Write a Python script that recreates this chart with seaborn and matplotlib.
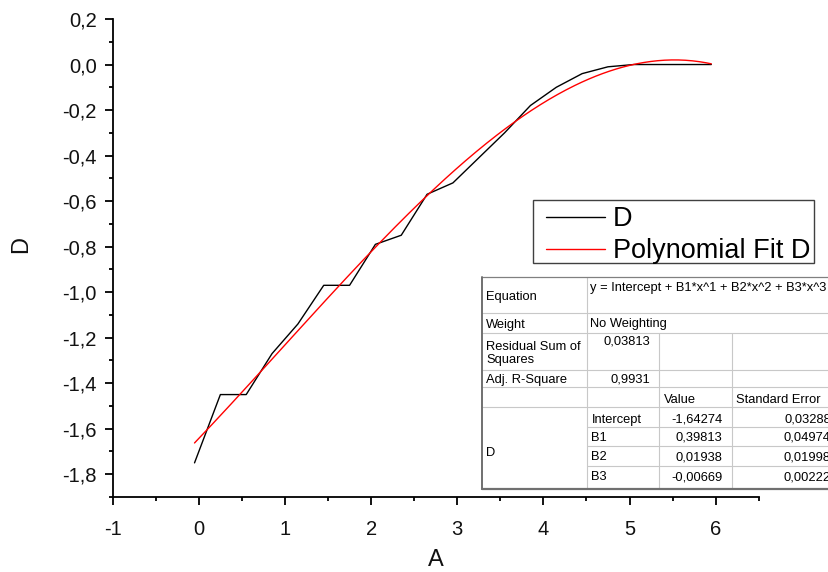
import numpy as np
import pandas as pd
import matplotlib
matplotlib.use("Agg")
import matplotlib.pyplot as plt
from matplotlib.ticker import FixedLocator, FixedFormatter, MultipleLocator
import seaborn as sns

# ---------------- data ----------------
a_values = [-0.05, 0.25, 0.55, 0.85, 1.15, 1.45, 1.75, 2.05, 2.35, 2.65, 2.95,
            3.25, 3.55, 3.85, 4.15, 4.45, 4.75, 5.05, 5.35, 5.65, 5.95]
d_values = [-1.75, -1.45, -1.45, -1.27, -1.14, -0.97, -0.97, -0.79, -0.75, -0.57, -0.52,
            -0.41, -0.30, -0.18, -0.10, -0.04, -0.01, 0.0, 0.0, 0.0, 0.0]
# polynomial fit coefficients (Intercept, B1, B2, B3) from the fit table
fit_coefs = [-1.64274, 0.39813, 0.01938, -0.00669]
fit_std_err = ["0,03288", "0,04974", "0,01998", "0,00222"]
fit_value_labels = ["-1,64274", "0,39813", "0,01938", "-0,00669"]
fit_param_names = ["Intercept", "B1", "B2", "B3"]

x_ticks = [-1, 0, 1, 2, 3, 4, 5, 6]
x_tick_labels = ["-1", "0", "1", "2", "3", "4", "5", "6"]
y_ticks = [0.2, 0.0, -0.2, -0.4, -0.6, -0.8, -1.0, -1.2, -1.4, -1.6, -1.8]
y_tick_labels = ["0,2", "0,0", "-0,2", "-0,4", "-0,6", "-0,8", "-1,0", "-1,2", "-1,4", "-1,6", "-1,8"]

df = pd.DataFrame({"A": a_values, "D": d_values})
fit_x = np.linspace(min(a_values), max(a_values), 300)
fit_y = np.polynomial.polynomial.polyval(fit_x, fit_coefs)
fit_df = pd.DataFrame({"A": fit_x, "D": fit_y})

# ---------------- style ----------------
sns.set_theme(style="white")
plt.rcParams["font.family"] = ["Liberation Sans", "DejaVu Sans"]

W, H = 829, 572
fig = plt.figure(figsize=(W / 100, H / 100), dpi=100)
ax_l, ax_r, ax_t, ax_b = 112.7, 758.7, 19.0, 497.0
ax = fig.add_axes([ax_l / W, 1 - ax_b / H, (ax_r - ax_l) / W, (ax_b - ax_t) / H])

sns.lineplot(data=df, x="A", y="D", ax=ax, color="black", linewidth=1.0, sort=False)
sns.lineplot(data=fit_df, x="A", y="D", ax=ax, color="#ff0000", linewidth=1.0, sort=False)

ax.set_xlim(-1, 6.5)
ax.set_ylim(-1.9, 0.2)
for s in ["top", "right"]:
    ax.spines[s].set_visible(False)
for s in ["left", "bottom"]:
    ax.spines[s].set_color("black")
    ax.spines[s].set_linewidth(1.3)

ax.xaxis.set_major_locator(FixedLocator(x_ticks))
ax.xaxis.set_major_formatter(FixedFormatter(x_tick_labels))
ax.yaxis.set_major_locator(FixedLocator(y_ticks))
ax.yaxis.set_major_formatter(FixedFormatter(y_tick_labels))
ax.xaxis.set_minor_locator(MultipleLocator(0.5))
ax.yaxis.set_minor_locator(MultipleLocator(0.1))
ax.tick_params(which="major", direction="out", length=5.5, width=1.3, color="black",
               labelsize=14.5, labelcolor="#111111", left=True, bottom=True)
ax.tick_params(axis="y", which="major", pad=6)
ax.tick_params(axis="x", which="major", pad=11)
ax.tick_params(which="minor", direction="out", length=3, width=1.3, color="black",
               left=True, bottom=True)

ax.set_xlabel("A", fontsize=17, color="#111111")
ax.set_ylabel("D", fontsize=17, color="#111111")
ax.xaxis.set_label_coords((436 - ax_l) / (ax_r - ax_l), (ax_b - 560) / (ax_b - ax_t))
ax.yaxis.set_label_coords((21 - ax_l) / (ax_r - ax_l), (ax_b - 245) / (ax_b - ax_t))
ax.xaxis.label.set_verticalalignment("center")
ax.yaxis.label.set_verticalalignment("center")

# ---------------- overlay (legend + fit table) in pixel coordinates ----------------
ov = fig.add_axes([0, 0, 1, 1], zorder=5)
ov.set_xlim(0, W)
ov.set_ylim(H, 0)
ov.axis("off")
ov.patch.set_alpha(0)

# legend box
ov.add_patch(plt.Rectangle((532.7, 200), 814.3 - 532.7, 263.3 - 200, fill=True,
                           facecolor="white", edgecolor="#404040", linewidth=1.0))
ov.plot([546, 605], [216.7, 216.7], color="black", lw=1.0)
ov.plot([546, 605], [249, 249], color="#ff0000", lw=1.0)
ov.text(613, 226, "D", fontsize=19.5, va="baseline", ha="left", color="black")
ov.text(613, 257.5, "Polynomial Fit D", fontsize=19.5, va="baseline", ha="left", color="black")

# fit table
tl, tt, tb, tr = 481.7, 277.3, 489.0, 840
c1, c2, c3 = 587.3, 659.0, 731.7
r_eq, r_w, r_res, r_adj, r_hdr = 313.3, 333.3, 370.0, 386.7, 406.7
r_p = [426.7, 446.0, 466.0]
ov.add_patch(plt.Rectangle((tl, tt), tr - tl, tb - tt, facecolor="white",
                           edgecolor="none", zorder=1))
grid_c = "#c8c8c8"
for y in [r_eq, r_w, r_res, r_adj, r_hdr]:
    ov.plot([tl, tr], [y, y], color=grid_c, lw=0.8, zorder=2)
for y in r_p:
    ov.plot([c1, tr], [y, y], color=grid_c, lw=0.8, zorder=2)
ov.plot([c1, c1], [tt, tb], color=grid_c, lw=0.8, zorder=2)
for x in [c2, c3]:
    ov.plot([x, x], [r_w, tb], color=grid_c, lw=0.8, zorder=2)
ov.plot([tl, tr], [tt, tt], color="#808080", lw=0.9, zorder=3)
ov.plot([tl, tl], [tt, tb], color="#707070", lw=1.4, zorder=3)
ov.plot([tl, tr], [tb, tb], color="#707070", lw=1.6, zorder=3)

tf = 9.3
tx = 486
def t(x, y, s, ha="left"):
    ov.text(x, y, s, fontsize=tf, va="baseline", ha=ha, color="black", zorder=4)

t(tx, 300, "Equation")
t(590, 290.7, "y = Intercept + B1*x^1 + B2*x^2 + B3*x^3")
t(tx, 327.7, "Weight")
t(590, 327, "No Weighting")
t(tx, 350, "Residual Sum of")
t(tx, 363.3, "Squares")
t(650.7, 345, "0,03813", ha="right")
t(tx, 383.3, "Adj. R-Square")
t(650.7, 382.5, "0,9931", ha="right")
t(664.3, 402.7, "Value")
t(736, 402.7, "Standard Error")
t(tx, 456.5, "D")
param_baselines = [422.7, 441.0, 460.0, 480.0]
for name, val, se, yb in zip(fit_param_names, fit_value_labels, fit_std_err, param_baselines):
    t(591.5, yb, name)
    t(722.7, yb, val, ha="right")
    t(831, yb, se, ha="right")

fig.savefig("out.png", dpi=100)
